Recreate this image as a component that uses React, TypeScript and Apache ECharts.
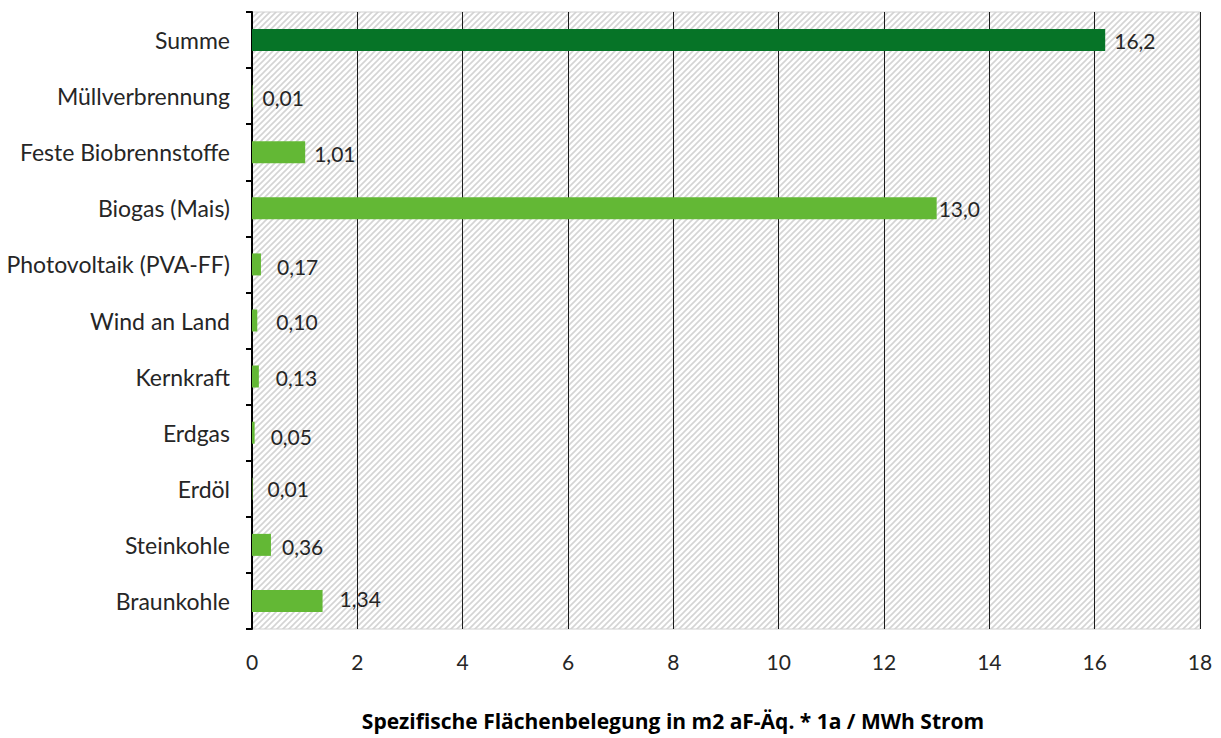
import React, { useEffect, useRef } from "react";
import * as echarts from "echarts";

const categories = [
  "Braunkohle",
  "Steinkohle",
  "Erdöl",
  "Erdgas",
  "Kernkraft",
  "Wind an Land",
  "Photovoltaik (PVA-FF)",
  "Biogas (Mais)",
  "Feste Biobrennstoffe",
  "Müllverbrennung",
  "Summe",
];
const values = [1.34, 0.36, 0.01, 0.05, 0.13, 0.1, 0.17, 13.0, 1.01, 0.01, 16.2];
const valueLabels = ["1,34", "0,36", "0,01", "0,05", "0,13", "0,10", "0,17", "13,0", "1,01", "0,01", "16,2"];
const xTicks = [0, 2, 4, 6, 8, 10, 12, 14, 16, 18];
const axisTitle = "Spezifische Flächenbelegung in m2 aF-Äq. * 1a / MWh Strom";

// label placement style (distance from bar end, vertical nudge) as in the reference
const labelGap = [17, 11, 15, 16, 17, 19, 16, 2, 9, 10, 9];
const labelNudgeY = [-2, 2, 0, 4, 1, 1, 2, 0, 1, 1, 0];

const FONT = "Lato, 'Open Sans', sans-serif";
const TEXT = "#262626";

const hatchSvg =
  "<svg xmlns='http://www.w3.org/2000/svg' width='6' height='6'>" +
  "<rect width='6' height='6' fill='white'/>" +
  "<path d='M-1,7 L7,-1 M-1,1 L1,-1 M5,7 L7,5' stroke='#d4d4d4' stroke-width='1.6'/>" +
  "</svg>";
const hatchUrl = "data:image/svg+xml;base64," + btoa(hatchSvg);

export default function App() {
  const ref = useRef<HTMLDivElement>(null);
  useEffect(() => {
    if (!ref.current) return;
    const chart = echarts.init(ref.current, null, { renderer: "svg" });
    const img = new Image();
    img.src = hatchUrl;
    const build = () => {
      chart.setOption({
        animation: false,
        backgroundColor: "#ffffff",
        title: {
          text: axisTitle,
          left: 673,
          top: 710,
          textAlign: "center",
          padding: 0,
          textStyle: {
            color: "#000",
            fontFamily: "'Open Sans', Lato, sans-serif",
            fontSize: 21,
            fontWeight: "bold",
          },
        },
        grid: {
          left: 252,
          right: 21,
          top: 12,
          bottom: 109,
          show: true,
          backgroundColor: { image: img, repeat: "repeat" } as any,
          borderColor: "#d0d0d0",
          borderWidth: 1,
        },
        xAxis: {
          type: "value",
          min: 0,
          max: 18,
          interval: 2,
          axisLine: { show: false },
          axisTick: { show: false },
          splitLine: { show: true, lineStyle: { color: "#1a1a1a", width: 1 } },
          axisLabel: {
            color: TEXT,
            fontFamily: FONT,
            fontSize: 21,
            margin: 22,
            formatter: (v: number) => (xTicks.includes(v) ? String(v) : ""),
          },
        },
        yAxis: {
          type: "category",
          data: categories,
          axisLine: { show: true, lineStyle: { color: "#000", width: 2 } },
          axisTick: { show: true, length: 6, lineStyle: { color: "#000", width: 2 } },
          axisLabel: {
            color: TEXT,
            fontFamily: FONT,
            fontSize: 23,
            margin: 22,
          },
          splitLine: { show: false },
        },
        series: [
          {
            type: "bar",
            data: values.map((v, i) => ({
              value: v,
              itemStyle: { color: i === values.length - 1 ? "#067427" : "#63b835" },
              label: { distance: labelGap[i], offset: [0, labelNudgeY[i]] },
            })),
            barWidth: 22,
            label: {
              show: true,
              position: "right",
              color: TEXT,
              fontFamily: FONT,
              fontSize: 21,
              formatter: (p: any) => valueLabels[p.dataIndex],
            },
          },
        ],
      });
    };
    if (img.complete) build();
    else {
      img.onload = build;
      build();
    }
    return () => chart.dispose();
  }, []);
  return (
    <div
      ref={ref}
      style={{ position: "fixed", left: 0, top: 0, width: 1221, height: 738 }}
    />
  );
}
